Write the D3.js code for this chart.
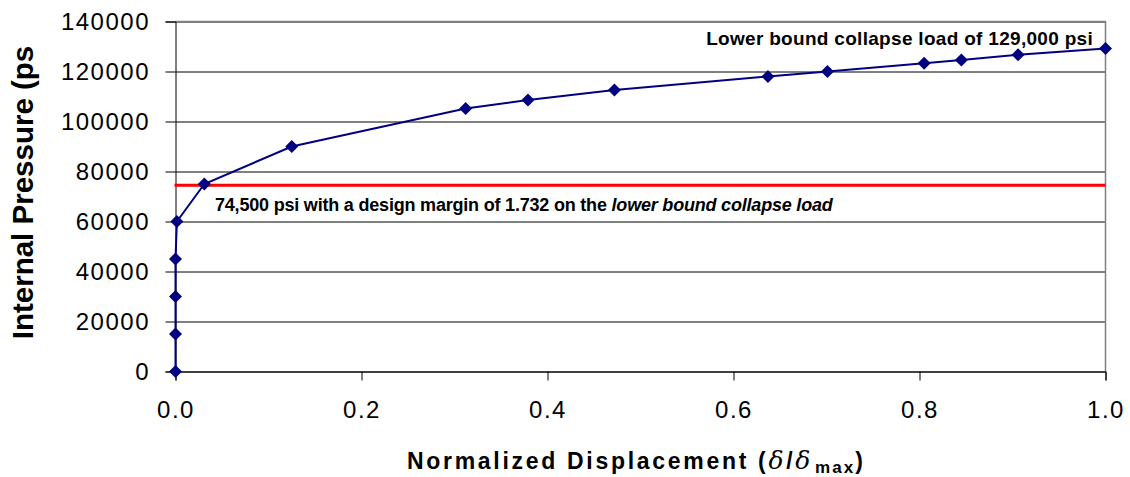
<!DOCTYPE html>
<html>
<head>
<meta charset="utf-8">
<script src="https://cdn.jsdelivr.net/npm/d3@7"></script>
<style>
  body { margin: 0; background: #fff; }
  svg { font-family: "Liberation Sans", Arial, sans-serif; }
</style>
</head>
<body>
<div id="chart-div"></div>
<script>
// Normalized displacement (x) and internal pressure (y, psi)
const displacement = [0, 0, 0, 0, 0.0015, 0.031, 0.125, 0.312, 0.379, 0.472, 0.637, 0.701, 0.805, 0.845, 0.906, 1.0];
const pressure = [0, 15000, 30000, 45000, 60000, 75000, 90000, 105200, 108600, 112600, 118000, 120000, 123300, 124600, 126700, 129200];
const designLoad = 74500;
const xTicks = [0, 0.2, 0.4, 0.6, 0.8, 1.0];
const yTicks = [0, 20000, 40000, 60000, 80000, 100000, 120000, 140000];

const navy = '#000080';

const width = 1130;
const height = 477;
const margin = { left: 175.5, top: 21.5 };
const plotW = 930;
const plotH = 350;

const svg = d3.select("#chart-div")
    .append("svg")
    .attr("width", width)
    .attr("height", height);

const xScale = d3.scaleLinear().domain([0, 1]).range([0, plotW]);
const yScale = d3.scaleLinear().domain([0, 140000]).range([plotH, 0]);

const g = svg.append("g")
    .attr("transform", "translate(" + margin.left + "," + margin.top + ")");

// gridlines
g.append("g")
    .call(d3.axisLeft(yScale).tickValues(yTicks).tickSize(-plotW).tickFormat(""))
    .call(s => s.select(".domain").remove())
    .call(s => s.selectAll("line").attr("stroke", "#000").attr("stroke-width", 1));

// plot frame top/right
g.append("path")
    .attr("d", "M0,0H" + plotW + "V" + plotH)
    .attr("fill", "none")
    .attr("stroke", "#808080")
    .attr("stroke-width", 1.5);

// axes
g.append("g")
    .call(d3.axisLeft(yScale).tickValues(yTicks).tickSize(10).tickPadding(17).tickFormat(d3.format("d")))
    .call(s => s.selectAll("path, line").attr("stroke", "#000"))
    .call(s => s.selectAll("text").attr("font-size", 24).attr("letter-spacing", 1.5).attr("dx", 1.5)
        .attr("fill", "#000").attr("font-family", "Liberation Sans, Arial"));

g.append("g")
    .attr("transform", "translate(0," + plotH + ")")
    .call(d3.axisBottom(xScale).tickValues(xTicks).tickSize(9).tickPadding(20).tickFormat(d3.format(".1f")))
    .call(s => s.selectAll("path, line").attr("stroke", "#000"))
    .call(s => s.selectAll("text").attr("font-size", 24).attr("letter-spacing", 1.5)
        .attr("fill", "#000").attr("font-family", "Liberation Sans, Arial"));

// design load line
g.append("line")
    .attr("x1", xScale(0) - 1)
    .attr("x2", xScale(1))
    .attr("y1", yScale(designLoad))
    .attr("y2", yScale(designLoad))
    .attr("stroke", "#ff0000")
    .attr("stroke-width", 3);

// data line
const points = displacement.map((d, i) => [d, pressure[i]]);

g.append("path")
    .datum(points)
    .attr("fill", "none")
    .attr("stroke", navy)
    .attr("stroke-width", 2)
    .attr("d", d3.line().x(d => xScale(d[0])).y(d => yScale(d[1])));

g.selectAll(".marker").data(points).enter().append("path")
    .attr("class", "marker")
    .attr("transform", d => "translate(" + xScale(d[0]) + "," + yScale(d[1]) + ")")
    .attr("d", "M0,-6.5L6.5,0L0,6.5L-6.5,0Z")
    .attr("fill", navy);

// annotations
svg.append("text")
    .attr("x", 1093)
    .attr("y", 44.5)
    .attr("text-anchor", "end")
    .attr("font-size", 19)
    .attr("letter-spacing", 0.3)
    .attr("font-weight", "bold")
    .text("Lower bound collapse load of 129,000 psi");

const note = svg.append("text")
    .attr("x", 215)
    .attr("y", 211)
    .attr("font-size", 18)
    .attr("letter-spacing", -0.2)
    .attr("font-weight", "bold");
note.append("tspan").text("74,500 psi with a design margin of 1.732 on the ");
note.append("tspan").attr("font-style", "italic").text("lower bound collapse load");

// axis titles
svg.append("text")
    .attr("transform", "translate(33,192.5) rotate(-90)")
    .attr("text-anchor", "middle")
    .attr("font-size", 29.5)
    .attr("font-weight", "bold")
    .text("Internal Pressure (ps");

const xTitle = svg.append("text")
    .attr("x", 407)
    .attr("y", 469)
    .attr("font-size", 23)
    .attr("font-weight", "bold")
    .attr("letter-spacing", 2.7);
xTitle.append("tspan").text("Normalized Displacement (");
xTitle.append("tspan").attr("font-weight", "normal").attr("font-family", "DejaVu Serif").attr("font-style", "italic").attr("font-size", 25).text("δ");
xTitle.append("tspan").text("/");
xTitle.append("tspan").attr("font-weight", "normal").attr("font-family", "DejaVu Serif").attr("font-style", "italic").attr("font-size", 25).text("δ");
xTitle.append("tspan").attr("font-size", 17).attr("dy", 4).attr("dx", 2).attr("letter-spacing", 2).text("max");
xTitle.append("tspan").attr("dy", -4).text(")");
</script>
</body>
</html>
